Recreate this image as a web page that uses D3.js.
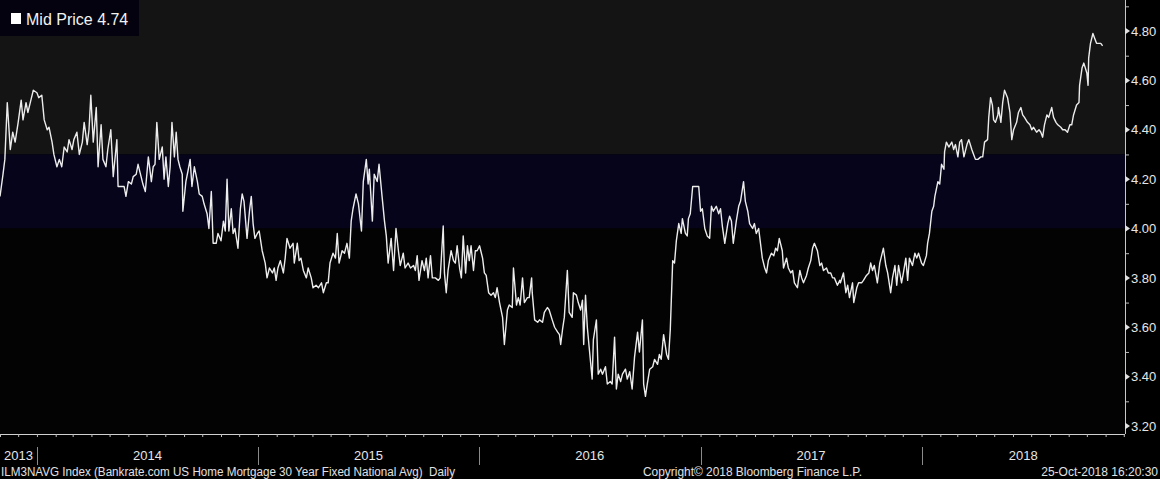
<!DOCTYPE html>
<html><head><meta charset="utf-8">
<script src="https://cdn.jsdelivr.net/npm/d3@7"></script>
<style>html,body{margin:0;padding:0;background:#000;}svg{display:block;}</style>
</head><body>
<svg id="c" width="1160" height="479"></svg>
<script>
// ---------------- data ----------------
const seriesName = "Mid Price";
const startDate = "2013-11-01";
// day offsets from startDate for each observation
const dayOffsets = [
 0,5,8,12,17,21,25,30,35,38,43,46,51,55,61,64,69,73,78,81,86,89,94,98,102,106,111,114,119,122,
 127,131,136,139,144,147,150,154,159,162,167,170,175,178,183,187,193,195,202,205,208,212,217,220,225,228,233,236,240,245,
 250,253,256,259,263,268,271,274,278,281,284,288,291,294,297,301,302,307,311,314,317,321,326,329,334,337,342,345,349,352,
 357,360,365,369,372,375,378,382,385,388,393,397,400,403,408,412,415,418,421,425,428,433,438,441,445,450,453,456,459,
 463,468,471,474,479,484,486,491,494,497,501,506,509,514,517,522,526,531,534,539,542,545,550,554,557,560,565,569,573,577,
 580,583,588,592,597,600,605,608,610,615,618,623,626,631,635,638,641,646,650,654,658,661,666,669,674,678,683,686,689,692,
 697,701,704,707,711,714,719,724,727,732,734,737,740,745,749,752,755,759,762,765,769,772,775,778,782,785,788,792,797,800,
 803,807,811,815,818,821,825,830,833,838,841,846,848,853,856,859,863,866,871,874,878,879,883,888,891,896,899,904,907,912,
 916,921,924,
 926,929,932,937,940,945,947,952,955,959,962,964,967,970,973,978,980,985,988,992,995,1000,1003,1008,1011,1015,1018,1021,1025,1028,
 1033,1036,1040,1044,1048,1053,1056,1061,1063,1066,1069,1073,1078,1081,1086,1089,1092,1096,1101,1104,
 1107,1111,1114,1117,1121,1125,1127,1132,1135,1137,1140,1144,1147,1150,1154,1157,1160,1164,1168,1172,
 1175,1178,1183,1187,1190,1193,1197,1202,1205,1208,1211,1216,1220,1223,1228,1231,1235,1238,1243,1246,
 1249,1253,1256,1259,1263,1266,1269,1274,1278,1281,1284,1287,1292,1294,1299,1302,1306,1309,1312,1317,
 1321,1324,1327,1332,1335,1339,1342,1345,1350,1354,1357,1360,1365,1368,1372,1375,1378,1383,1387,
 1388,1393,1397,1400,1403,1408,1410,1415,1418,1423,1426,1431,1435,1438,1441,1444,1449,1453,1456,1459,
 1463,1466,1471,1474,1478,1481,1484,1489,1492,1496,1499,1502,1507,1511,1514,1517,1522,1525,1530,1532,
 1535,1539,1542,1544,1549,1552,1555,1559,1560,1563,1567,1572,1575,1578,1582,1585,1588,1592,1597,1600,
 1605,1608,1611,1615,1620,1623,1626,1631,1633,1636,1639,1641,1644,1648,1649,1653,1656,1659,1664,1668,
 1671,1674,1679,1682,1686,1689,1692,1697,1701,1704,1707,1712,1716,1719,1722,1725,1729,1732,1737,1740,
 1744,1747,1752,1755,1759,1763,1767,1770,1773,1778,1782,1783,1787,1790,1795,1797,1798,1801,1805,1808,
 1811,1815,1818,1821
];
const midPrice = [
 4.13,4.22,4.28,4.51,4.32,4.39,4.35,4.43,4.52,4.44,4.51,4.47,4.52,4.56,4.55,4.53,4.54,4.44,4.40,4.41,
 4.35,4.30,4.25,4.28,4.25,4.33,4.31,4.36,4.32,4.36,4.39,4.30,4.35,4.43,4.34,4.40,4.54,4.35,4.49,4.25,
 4.42,4.28,4.25,4.32,4.40,4.21,4.36,4.17,4.17,4.17,4.13,4.19,4.18,4.21,4.22,4.26,4.21,4.18,4.15,4.29,
 4.19,4.25,4.26,4.43,4.28,4.33,4.20,4.29,4.17,4.25,4.43,4.29,4.39,4.28,4.25,4.22,4.07,4.19,4.24,4.28,
 4.17,4.25,4.19,4.14,4.13,4.10,4.06,4.00,4.15,3.94,3.94,3.98,3.95,4.03,3.99,4.20,3.99,4.08,3.98,4.00,
 3.92,4.08,4.14,4.11,3.96,4.07,4.13,4.02,3.96,3.98,3.99,3.91,3.86,3.80,3.84,3.82,3.84,3.79,3.84,
 3.87,3.82,3.88,3.96,3.92,3.94,3.86,3.94,3.87,3.88,3.83,3.80,3.84,3.80,3.76,3.77,3.76,3.78,3.74,3.78,
 3.78,3.86,3.90,3.88,3.98,3.86,3.91,3.90,3.94,3.88,4.03,4.08,4.14,4.10,3.99,4.19,4.28,4.18,4.24,4.03,
 4.22,4.19,4.26,4.13,4.03,3.97,3.86,3.96,3.83,4.00,3.91,3.85,3.90,3.84,3.86,3.84,3.85,3.83,3.89,3.79,
 3.87,3.83,3.88,3.80,3.89,3.80,3.80,3.79,3.80,4.01,3.82,3.74,3.83,3.91,3.87,3.86,3.93,3.84,3.80,3.97,
 3.82,3.93,3.87,3.93,3.83,3.91,3.91,3.93,3.88,3.82,3.81,3.74,3.73,3.74,3.72,3.76,3.70,3.64,3.53,3.67,
 3.69,3.68,3.84,3.69,3.72,3.69,3.80,3.70,3.72,3.72,3.80,3.74,3.63,3.62,3.63,3.62,3.66,3.68,3.67,3.63,
 3.60,3.58,3.57,
 3.53,3.59,3.64,3.83,3.66,3.64,3.74,3.73,3.70,3.67,3.71,3.53,3.73,3.60,3.52,3.39,3.55,3.63,3.41,3.43,
 3.41,3.44,3.37,3.38,3.37,3.56,3.35,3.41,3.38,3.41,3.43,3.39,3.42,3.35,3.48,3.58,3.50,3.63,3.37,3.32,
 3.37,3.43,3.44,3.47,3.45,3.49,3.47,3.57,3.49,3.47,3.59,3.87,3.86,3.95,4.02,3.98,4.04,3.98,3.97,4.04,
 4.06,4.17,4.17,4.17,4.17,4.07,4.08,4.00,3.97,3.96,4.09,4.07,4.09,4.06,4.08,4.01,3.94,4.02,4.05,4.03,
 3.94,4.03,4.09,4.11,4.19,4.11,4.07,4.02,4.00,4.02,3.98,4.00,3.94,3.88,3.84,3.82,3.87,3.90,3.89,3.92,
 3.91,3.96,3.91,3.84,3.88,3.84,3.82,3.83,3.78,3.76,3.83,3.80,3.78,3.81,3.84,3.87,3.92,3.94,3.91,3.85,
 3.86,3.83,3.84,3.82,3.82,3.80,3.80,3.77,3.79,
 3.78,3.82,3.74,3.77,3.72,3.78,3.70,3.76,3.78,3.78,3.79,3.81,3.82,3.86,3.83,3.85,3.78,3.86,3.89,3.92,
 3.85,3.82,3.74,3.80,3.85,3.77,3.85,3.78,3.82,3.88,3.79,3.88,3.85,3.90,3.88,3.90,3.86,3.85,3.89,3.94,
 3.98,4.07,4.09,4.13,4.19,4.18,4.26,4.24,4.31,4.35,4.33,4.35,4.32,4.34,4.29,4.35,4.36,4.29,4.34,4.36,
 4.32,4.30,4.28,4.28,4.29,4.29,4.35,4.36,4.45,4.53,4.50,4.44,4.43,4.46,4.49,4.43,4.51,4.56,4.53,4.47,
 4.36,4.40,4.43,4.47,4.49,4.46,4.45,4.43,4.42,4.40,4.41,4.39,4.40,4.39,4.37,4.42,4.46,4.45,4.49,4.45,
 4.43,4.42,4.41,4.40,4.40,4.39,4.42,4.42,4.46,4.50,4.51,4.58,4.65,4.67,4.63,4.58,4.69,4.75,4.79,4.77,
 4.75,4.75,4.75,4.74
];
const yTickValues = [3.2,3.4,3.6,3.8,4.0,4.2,4.4,4.6,4.8];
const yTickLabels = ["3.20","3.40","3.60","3.80","4.00","4.20","4.40","4.60","4.80"];
const yMinorTicks = [3.3,3.5,3.7,3.9,4.1,4.3,4.5,4.7,4.9];
const yearLabels = ["2013","2014","2015","2016","2017","2018"];
const bandEdges = [4.30, 4.00];
const footerLeft = "ILM3NAVG Index (Bankrate.com US Home Mortgage 30 Year Fixed National Avg)  Daily";
const footerMid = "Copyright\u00A9 2018 Bloomberg Finance L.P.";
const footerRight = "25-Oct-2018 16:20:30";

// ---------------- layout ----------------
const W = 1160, H = 479, plotR = 1125, plotB = 434;
const svg = d3.select("#c");
const t0 = d3.timeParse("%Y-%m-%d")(startDate);
const dates = dayOffsets.map(d => d3.timeDay.offset(t0, d));
const x = d3.scaleTime().domain([t0, new Date(2018, 11, 3)]).range([0, plotR]);
const y = d3.scaleLinear().domain([3.2, 4.8]).range([426, 31]);
const font = "'Liberation Sans', Arial, sans-serif";

svg.append("rect").attr("width", W).attr("height", H).attr("fill", "#000");
// background bands
svg.append("rect").attr("x", 0).attr("y", 0).attr("width", plotR).attr("height", y(bandEdges[0])).attr("fill", "#141414");
svg.append("rect").attr("x", 0).attr("y", y(bandEdges[0])).attr("width", plotR).attr("height", y(bandEdges[1]) - y(bandEdges[0])).attr("fill", "#05041a");
svg.append("rect").attr("x", 0).attr("y", y(bandEdges[1])).attr("width", plotR).attr("height", plotB - y(bandEdges[1])).attr("fill", "#030304");

// line
const line = d3.line().x((v, i) => x(dates[i])).y(v => y(v));
svg.append("path").datum(midPrice).attr("d", line)
  .attr("fill", "none").attr("stroke", "#ececec").attr("stroke-width", 1.4).attr("stroke-linejoin", "round");

// right axis
const yAxis = d3.axisRight(y).tickValues(yMinorTicks).tickSize(4).tickFormat("");
const ya = svg.append("g").attr("transform", `translate(${plotR},0)`).call(yAxis);
ya.select(".domain").remove();
ya.selectAll("line").attr("stroke", "#bdbdbd");
svg.append("line").attr("x1", plotR + 0.5).attr("x2", plotR + 0.5).attr("y1", 0).attr("y2", plotB)
  .attr("stroke", "#c8c8c8").attr("stroke-width", 1);
const yt = svg.append("g").selectAll("g").data(yTickValues).join("g")
  .attr("transform", d => `translate(${plotR},${y(d)})`);
yt.append("path").attr("d", "M0,-3.5L5,0L0,3.5Z").attr("fill", "#e0e0e0");
yt.append("text").attr("x", 6).attr("dy", "0.36em").text((d, i) => yTickLabels[i])
  .attr("fill", "#e6e6e6").style("font", `13px ${font}`);

// bottom axis
svg.append("line").attr("x1", 0).attr("x2", plotR).attr("y1", plotB + 0.5).attr("y2", plotB + 0.5)
  .attr("stroke", "#d0d0d0");
const months = d3.timeMonth.range(d3.timeMonth.ceil(x.domain()[0]), x.domain()[1]);
const xAxis = d3.axisBottom(x).tickValues(months).tickSize(3).tickFormat("");
const xa = svg.append("g").attr("transform", `translate(0,${plotB})`).call(xAxis);
xa.select(".domain").remove();
xa.selectAll("line").attr("stroke", "#bdbdbd");

const yearStarts = yearLabels.map(s => new Date(+s, 0, 1));
svg.append("g").selectAll("line").data(yearStarts.filter(d => x(d) > 0)).join("line")
  .attr("x1", d => Math.round(x(d)) + 0.5).attr("x2", d => Math.round(x(d)) + 0.5)
  .attr("y1", 447).attr("y2", 465).attr("stroke", "#8a8a8a");
svg.append("g").selectAll("text").data(yearLabels).join("text")
  .attr("x", (s, i) => {
    const a = Math.max(0, x(yearStarts[i]));
    const b = Math.min(plotR, x(new Date(+s + 1, 0, 1)));
    return (a + b) / 2;
  })
  .attr("y", 460).attr("text-anchor", "middle").text(s => s)
  .attr("fill", "#e6e6e6").style("font", `13px ${font}`);

// footer
svg.append("text").attr("x", 1).attr("y", 476).text(footerLeft)
  .attr("fill", "#e0e0e0").style("font", `12px ${font}`).style("white-space", "pre")
  .attr("textLength", 454).attr("lengthAdjust", "spacingAndGlyphs");
svg.append("text").attr("x", 643).attr("y", 476).text(footerMid)
  .attr("fill", "#e0e0e0").style("font", `12px ${font}`)
  .attr("textLength", 219).attr("lengthAdjust", "spacingAndGlyphs");
svg.append("text").attr("x", 1158).attr("y", 476).attr("text-anchor", "end").text(footerRight)
  .attr("fill", "#e0e0e0").style("font", `12px ${font}`);

// legend
const lg = svg.append("g");
lg.append("rect").attr("x", 0).attr("y", 0).attr("width", 139).attr("height", 36).attr("fill", "#03020e");
lg.append("rect").attr("x", 11).attr("y", 13).attr("width", 10).attr("height", 11).attr("fill", "#ffffff");
lg.append("text").attr("x", 26).attr("y", 25)
  .text(`${seriesName} ${midPrice[midPrice.length - 1].toFixed(2)}`)
  .attr("fill", "#f2f2f2").style("font", `16px ${font}`);
</script>
</body></html>
